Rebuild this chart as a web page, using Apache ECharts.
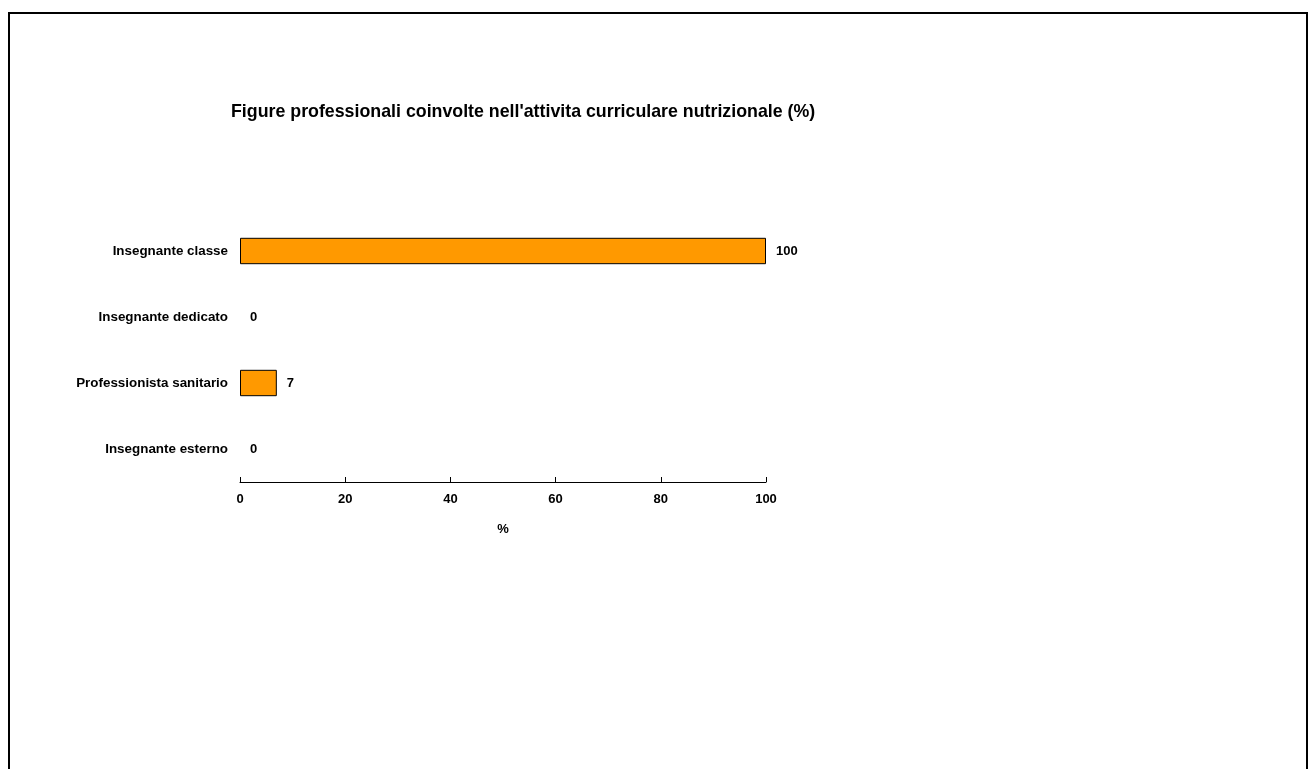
<!DOCTYPE html>
<html><head><meta charset="utf-8">
<script src="https://cdn.jsdelivr.net/npm/echarts@6/dist/echarts.min.js"></script>
<style>html,body{margin:0;padding:0;background:#fff}#c{width:1309px;height:769px}</style>
</head><body><div id="c"></div>
<script>
const categories = ['Insegnante classe','Insegnante dedicato','Professionista sanitario','Insegnante esterno'];
const values = [100, 0, 7, 0];
const xTicks = [0, 20, 40, 60, 80, 100];
const titleText = "Figure professionali coinvolte nell'attivita curriculare nutrizionale (%)";

const font = '"Liberation Sans", Arial, sans-serif';
const chart = echarts.init(document.getElementById('c'));
chart.setOption({
  animation: false,
  backgroundColor: '#fff',
  title: {
    text: titleText, left: 226, top: 98,
    textStyle: {fontFamily: font, fontWeight: 'bold', fontSize: 17.8, color: '#000'}
  },
  graphic: [{
    type: 'rect', shape: {x: 9, y: 13, width: 1298, height: 800},
    style: {fill: 'none', stroke: '#000', lineWidth: 2}, silent: true
  }],
  grid: {left: 240, right: 543, top: 218, bottom: 287, containLabel: false},
  xAxis: {
    type: 'value', min: 0, max: 100, interval: 20,
    name: '%', nameLocation: 'middle', nameGap: 41,
    nameTextStyle: {fontFamily: font, fontWeight: 'bold', fontSize: 13, color: '#000'},
    axisLine: {show: true, lineStyle: {color: '#000', width: 1}},
    axisTick: {show: true, inside: true, length: 5, lineStyle: {color: '#000'}},
    axisLabel: {fontFamily: font, fontWeight: 'bold', fontSize: 13, color: '#000', margin: 11,
      formatter: v => xTicks.includes(v) ? String(v) : ''},
    splitLine: {show: false}
  },
  yAxis: {
    type: 'category', data: categories, inverse: true,
    axisLine: {show: false}, axisTick: {show: false},
    axisLabel: {fontFamily: font, fontWeight: 'bold', fontSize: 13.4, color: '#000', margin: 12}
  },
  series: [{
    type: 'bar', barWidth: '40%',
    data: values.map(v => ({value: v, itemStyle: v === 0 ? {borderWidth: 0} : {}})),
    itemStyle: {color: '#FF9900', borderColor: '#000', borderWidth: 1},
    label: {show: true, position: 'right', distance: 10, fontFamily: font, fontWeight: 'bold', fontSize: 13, color: '#000'}
  }]
});
</script></body></html>
